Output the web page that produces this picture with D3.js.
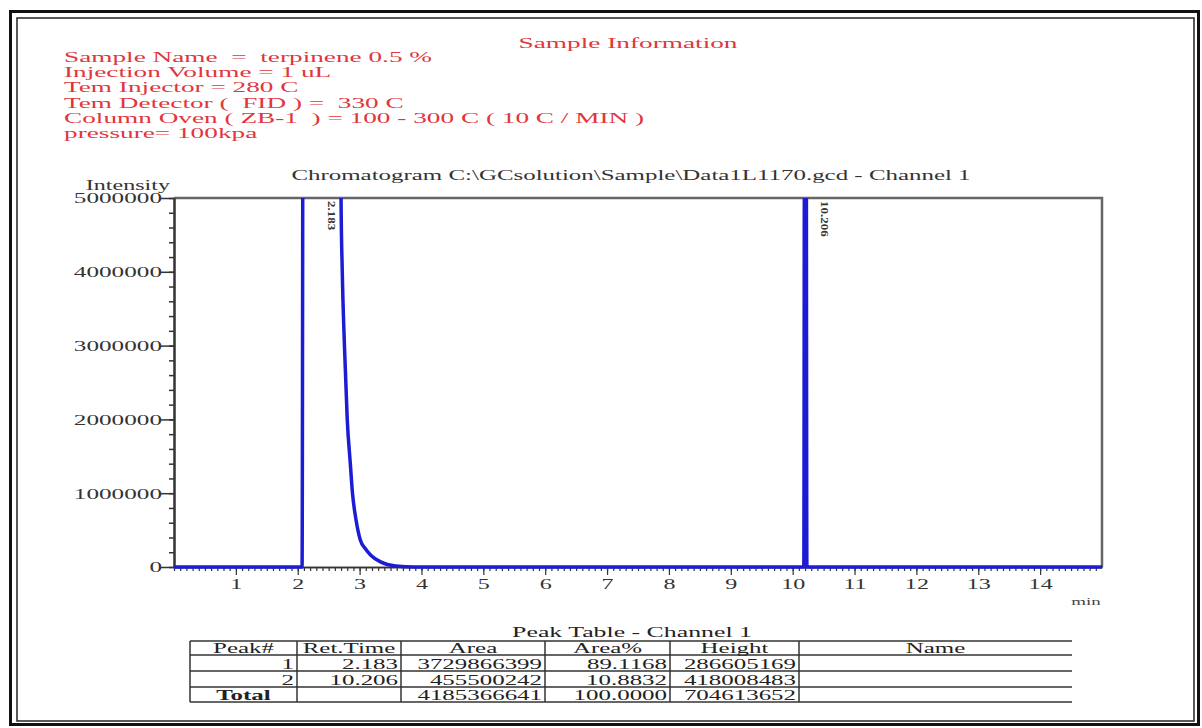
<!DOCTYPE html>
<html lang="en">
<head>
<meta charset="UTF-8">
<title>Chromatogram</title>
<script src="https://cdnjs.cloudflare.com/ajax/libs/d3/7.8.5/d3.min.js"></script>
<style>
    body { margin: 0; background: #fff; }
    text { font-family: "Liberation Serif", "DejaVu Serif", serif; white-space: pre; }
</style>
</head>
<body>
<div id="chart"></div>
<script>
    // sample info lines
    var infoLines = [
        'Sample Name  =  terpinene 0.5 %',
        'Injection Volume = 1 uL',
        'Tem Injector = 280 C',
        'Tem Detector (  FID ) =  330 C',
        'Column Oven ( ZB-1  ) = 100 - 300 C ( 10 C / MIN )',
        'pressure= 100kpa'
    ];

    // chromatogram trace (min, intensity); values above 5e6 are off scale
    var traceTime = [0, 2.07, 2.09, 2.68, 2.70, 2.72, 2.755, 2.80, 2.85, 2.885, 2.94, 3.01, 3.10, 3.18, 3.34, 3.58, 3.9,
                     10.18, 10.195, 10.215, 10.23, 15];
    var traceIntensity = [0, 0, 9000000, 9000000, 5000000, 4000000, 3000000, 2000000, 1400000, 1000000, 650000, 370000,
                          240000, 160000, 70000, 15000, 0, 0, 9000000, 9000000, 0, 0];

    var peakLabels = ['2.183', '10.206'];
    var peakLabelTime = [2.56, 10.52];

    var xTicks = [1, 2, 3, 4, 5, 6, 7, 8, 9, 10, 11, 12, 13, 14];
    var yTicks = [0, 1000000, 2000000, 3000000, 4000000, 5000000];

    // peak table
    var tableHead = ['Peak#', 'Ret.Time', 'Area', 'Area%', 'Height', 'Name'];
    var peakNo = ['1', '2'];
    var retTime = ['2.183', '10.206'];
    var area = ['3729866399', '455500242'];
    var areaPct = ['89.1168', '10.8832'];
    var height = ['286605169', '418008483'];
    var totals = ['Total', '', '4185366641', '100.0000', '704613652', ''];

    var w = 1202, h = 728, SX = 1.72,
        red = '#e0363c',
        lineBlue = '#1c1cd4',
        svg = d3.select('#chart').append('svg').attr('width', w).attr('height', h);

    svg.append('rect').attr('width', w).attr('height', h).attr('fill', '#fff');

    // stretched text helper (the print is wide)
    function label(x, y, str, anchor, size, color, weight, sx) {
        return svg.append('text')
            .attr('transform', 'translate(' + x + ',' + y + ') scale(' + (sx || SX) + ',1)')
            .attr('text-anchor', anchor || 'start')
            .style('font-size', (size || 15) + 'px')
            .style('font-weight', weight || 'normal')
            .attr('fill', color || '#222')
            .text(str);
    }

    // page frame
    svg.append('rect').attr('x', 10.5).attr('y', 11.5).attr('width', 1188).attr('height', 713)
        .attr('fill', 'none').attr('stroke', '#111').attr('stroke-width', 3);
    svg.append('rect').attr('x', 17).attr('y', 18).attr('width', 1177).attr('height', 703)
        .attr('fill', 'none').attr('stroke', '#222').attr('stroke-width', 1.5);

    // SAMPLE INFO
    label(628, 48, 'Sample Information', 'middle', 15, red, 'normal', 1.82);
    infoLines.forEach(function (s, i) {
        label(64, 62 + i * 15.2, s, 'start', 14.5, red, 'normal', 1.88);
    });

    // CHART
    var pLeft = 174, pRight = 1102, pTop = 198, pBottom = 567;
    var x = d3.scaleLinear().domain([0, 15]).range([pLeft, pRight]);
    var y = d3.scaleLinear().domain([0, 5000000]).range([pBottom, pTop]);

    label(631, 180, 'Chromatogram C:\\GCsolution\\Sample\\Data1L1170.gcd - Channel 1', 'middle', 14.5, '#333');
    label(170, 190, 'Intensity', 'end', 14, '#333');

    // frame top / right
    svg.append('path')
        .attr('d', 'M' + pLeft + ',' + pTop + 'H' + pRight + 'V' + pBottom)
        .attr('fill', 'none').attr('stroke', '#666').attr('stroke-width', 2.5);

    // y axis
    var yMinor = svg.append('g').attr('transform', 'translate(' + pLeft + ',0)')
        .call(d3.axisLeft(y).tickValues(d3.range(0, 5000001, 200000)).tickSize(5).tickSizeOuter(0).tickFormat(''));
    var yAxis = svg.append('g').attr('transform', 'translate(' + pLeft + ',0)')
        .call(d3.axisLeft(y).tickValues(yTicks).tickSize(13).tickSizeOuter(0).tickPadding(1).tickFormat(d3.format('d')));
    [yMinor, yAxis].forEach(function (g) {
        g.select('.domain').attr('stroke', '#333').attr('stroke-width', 2);
        g.selectAll('.tick line').attr('stroke', '#333').attr('stroke-width', 1.5);
    });
    yAxis.selectAll('.tick text')
        .attr('x', 0).attr('dy', '0.35em')
        .attr('transform', 'translate(-12,0) scale(1.8,1)')
        .style('font-size', '14px').style('font-family', 'Liberation Serif').attr('fill', '#333');

    // x axis
    var xMinor = svg.append('g').attr('transform', 'translate(0,' + pBottom + ')')
        .call(d3.axisBottom(x).tickValues(d3.range(0, 150).map(function (d) { return d / 10; }))
            .tickSize(4).tickSizeOuter(0).tickFormat(''));
    var xAxis = svg.append('g').attr('transform', 'translate(0,' + pBottom + ')')
        .call(d3.axisBottom(x).tickValues(xTicks).tickSize(8).tickSizeOuter(0).tickPadding(4).tickFormat(d3.format('d')));
    [xMinor, xAxis].forEach(function (g) {
        g.select('.domain').attr('stroke', '#333').attr('stroke-width', 1.5);
        g.selectAll('.tick line').attr('stroke', '#333').attr('stroke-width', 1.2);
    });
    xAxis.selectAll('.tick text')
        .attr('transform', 'scale(' + SX + ',1)')
        .style('font-size', '14px').style('font-family', 'Liberation Serif').attr('fill', '#333');
    label(1086, 605, 'min', 'middle', 11, '#444');

    // TRACE
    svg.append('clipPath').attr('id', 'plotClip')
        .append('rect').attr('x', pLeft).attr('y', pTop).attr('width', pRight - pLeft + 8).attr('height', pBottom - pTop + 2);
    var pts = traceTime.map(function (t, i) { return [t, traceIntensity[i]]; });
    svg.append('path')
        .datum(pts)
        .attr('clip-path', 'url(#plotClip)')
        .attr('d', d3.line().curve(d3.curveMonotoneX)
            .x(function (d) { return x(d[0]); }).y(function (d) { return y(d[1]); }))
        .attr('fill', 'none').attr('stroke', lineBlue).attr('stroke-width', 3.5).attr('stroke-linejoin', 'round');

    // peak labels (rotated)
    peakLabels.forEach(function (s, i) {
        svg.append('text')
            .attr('transform', 'translate(' + (x(peakLabelTime[i]) - 4) + ',' + (pTop + 3) + ') rotate(90) scale(1.3,1)')
            .style('font-size', '10px').style('font-weight', 'bold').attr('fill', '#333')
            .text(s);
    });

    // PEAK TABLE
    label(632, 637, 'Peak Table - Channel 1', 'middle', 15, '#222');
    var colX = [190, 297, 401, 545, 670, 799, 1072],
        rowY = [641, 655, 671, 687, 702];
    var rows = [tableHead,
        [peakNo[0], retTime[0], area[0], areaPct[0], height[0], ''],
        [peakNo[1], retTime[1], area[1], areaPct[1], height[1], ''],
        totals];
    rowY.forEach(function (ry) {
        svg.append('line').attr('x1', colX[0]).attr('x2', colX[6]).attr('y1', ry).attr('y2', ry)
            .attr('stroke', '#333').attr('stroke-width', 1.5);
    });
    colX.slice(0, 6).forEach(function (cx) {
        svg.append('line').attr('x1', cx).attr('x2', cx).attr('y1', rowY[0]).attr('y2', rowY[4])
            .attr('stroke', '#333').attr('stroke-width', 1.5);
    });
    rows.forEach(function (r, ri) {
        r.forEach(function (s, ci) {
            if (!s) return;
            var base = rowY[ri + 1] - 2;
            if (ri === 0 || (ri === 3 && ci === 0)) {
                label((colX[ci] + colX[ci + 1]) / 2, base, s, 'middle', 14.5, '#222', ri === 3 ? 'bold' : 'normal');
            } else {
                label(colX[ci + 1] - 3, base, s, 'end', 14.5, '#222');
            }
        });
    });
</script>
</body>
</html>
